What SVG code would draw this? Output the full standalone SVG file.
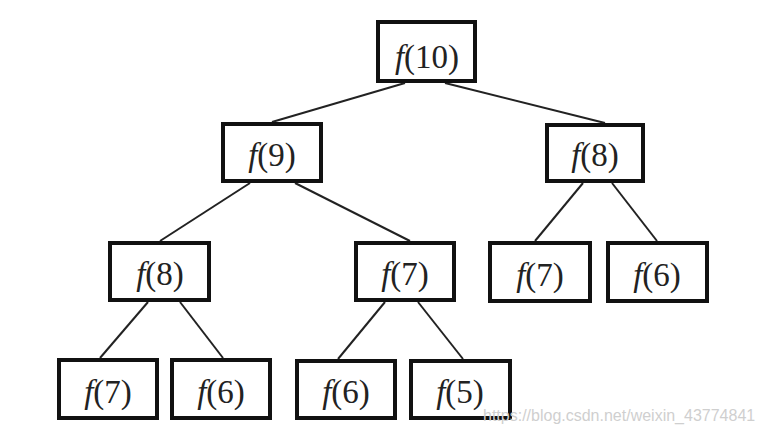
<svg xmlns="http://www.w3.org/2000/svg" width="763" height="435" viewBox="0 0 763 435">
<style>
.box{fill:#fff;stroke:#111;stroke-width:4}
.lbl{font-family:"Liberation Serif","Times New Roman",serif;font-size:33px;fill:#222;text-anchor:middle}
.it{font-style:italic}
.edge{stroke:#222;stroke-width:2;fill:none}
.wm{font-family:"Liberation Sans",Arial,sans-serif;font-size:16px;fill:#cfcfcf}
</style>
<rect width="763" height="435" fill="#fff"/>
<g id="connectors">
<line class="edge" x1="405" y1="83" x2="272" y2="122"/>
<line class="edge" x1="445" y1="83" x2="605" y2="123"/>
<line class="edge" x1="250" y1="183" x2="160" y2="241"/>
<line class="edge" x1="295" y1="183" x2="410" y2="241"/>
<line class="edge" x1="583" y1="183" x2="535" y2="241"/>
<line class="edge" x1="612" y1="183" x2="657" y2="241"/>
<line class="edge" x1="148" y1="302" x2="100" y2="358"/>
<line class="edge" x1="180" y1="302" x2="223" y2="358"/>
<line class="edge" x1="385" y1="302" x2="338" y2="359"/>
<line class="edge" x1="418" y1="302" x2="463" y2="359"/>
</g>
<g id="n10"><rect class="box" x="378" y="22" width="97" height="59"/><text class="lbl" x="427" y="68"><tspan class="it">f</tspan>(10)</text></g>
<g id="n9"><rect class="box" x="223" y="124" width="98" height="57"/><text class="lbl" x="272" y="166"><tspan class="it">f</tspan>(9)</text></g>
<g id="n8r"><rect class="box" x="547" y="125" width="96" height="56"/><text class="lbl" x="595" y="166"><tspan class="it">f</tspan>(8)</text></g>
<g id="n8l"><rect class="box" x="110" y="243" width="99" height="57"/><text class="lbl" x="160" y="285"><tspan class="it">f</tspan>(8)</text></g>
<g id="n7m"><rect class="box" x="356" y="243" width="98" height="57"/><text class="lbl" x="405" y="285"><tspan class="it">f</tspan>(7)</text></g>
<g id="n7r"><rect class="box" x="490" y="243" width="100" height="58"/><text class="lbl" x="540" y="286"><tspan class="it">f</tspan>(7)</text></g>
<g id="n6r"><rect class="box" x="608" y="243" width="99" height="58"/><text class="lbl" x="657" y="286"><tspan class="it">f</tspan>(6)</text></g>
<g id="n7b"><rect class="box" x="59" y="360" width="98" height="58"/><text class="lbl" x="108" y="403"><tspan class="it">f</tspan>(7)</text></g>
<g id="n6b1"><rect class="box" x="172" y="360" width="98" height="58"/><text class="lbl" x="221" y="403"><tspan class="it">f</tspan>(6)</text></g>
<g id="n6b2"><rect class="box" x="297" y="361" width="98" height="57"/><text class="lbl" x="346" y="403"><tspan class="it">f</tspan>(6)</text></g>
<g id="n5b"><rect class="box" x="411" y="361" width="99" height="57"/><text class="lbl" x="460" y="403"><tspan class="it">f</tspan>(5)</text></g>
<text class="wm" x="483" y="421">https://blog.csdn.net/weixin_43774841</text>
</svg>
